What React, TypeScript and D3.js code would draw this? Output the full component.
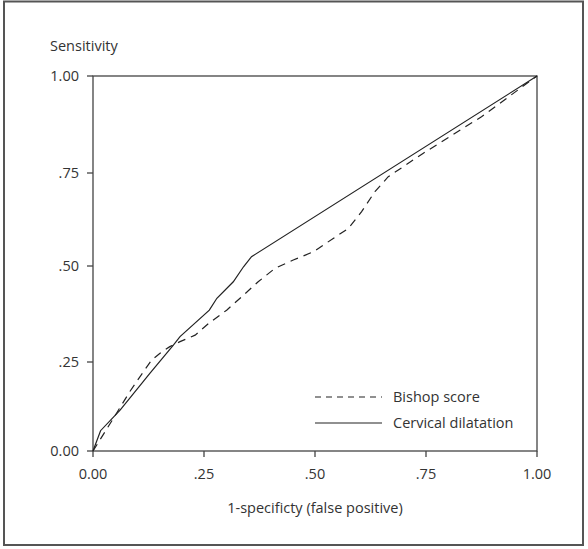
import React from "react";
import * as d3 from "d3";

const tickValues = [0, 0.25, 0.5, 0.75, 1];
const tickLabels = ["0.00", ".25", ".50", ".75", "1.00"];

const seriesNames = ["Bishop score", "Cervical dilatation"];

const bishopX = [0, 0.027, 0.053, 0.083, 0.106, 0.132, 0.151, 0.173, 0.196, 0.23, 0.261, 0.301, 0.335, 0.372, 0.41, 0.451, 0.496, 0.541, 0.575, 0.605, 0.635, 0.665, 0.705, 0.744, 0.875, 1];
const bishopY = [0, 0.054, 0.106, 0.167, 0.209, 0.255, 0.273, 0.29, 0.303, 0.32, 0.351, 0.385, 0.42, 0.459, 0.494, 0.516, 0.538, 0.574, 0.601, 0.646, 0.7, 0.74, 0.771, 0.801, 0.895, 1];

const cervicalX = [0, 0.017, 0.061, 0.113, 0.128, 0.181, 0.196, 0.262, 0.279, 0.316, 0.339, 0.357, 1];
const cervicalY = [0, 0.057, 0.115, 0.195, 0.218, 0.294, 0.316, 0.385, 0.416, 0.459, 0.498, 0.525, 1];

const W = 588;
const H = 549;
const FONT = "'Open Sans', 'Noto Sans', sans-serif";
const TEXT = "#333";
const FS = 14.5;

export default function App() {
  const x = d3.scaleLinear().domain([0, 1]).range([93, 537]);
  const y = d3.scaleLinear().domain(tickValues).range([451, 362, 266, 173, 76]);

  const line = d3
    .line<[number, number]>()
    .x((d) => x(d[0]))
    .y((d) => y(d[1]))
    .curve(d3.curveLinear);

  const bishop: [number, number][] = bishopX.map((v, i) => [v, bishopY[i]]);
  const cervical: [number, number][] = cervicalX.map((v, i) => [v, cervicalY[i]]);

  const [x0, x1] = x.range();
  const yTop = y(1);
  const yBot = y(0);

  const legendY = [397, 423];
  const legendX0 = 315;
  const legendX1 = 382;

  return (
    <svg
      width={W}
      height={H}
      style={{ position: "absolute", left: 0, top: 0, background: "#fff" }}
      fontFamily={FONT}
    >
      <rect x={4} y={1.5} width={579} height={543.5} fill="#fff" stroke="#555" strokeWidth={2} />

      <text x={50} y={51} fontSize={FS} fill={TEXT}>
        Sensitivity
      </text>

      {/* plot frame */}
      <rect x={x0} y={yTop} width={x1 - x0} height={yBot - yTop} fill="none" stroke="#444" strokeWidth={1.3} />

      {/* y ticks */}
      {tickValues.map((v, i) => (
        <g key={"y" + i}>
          <line x1={x0 - 6} x2={x0} y1={y(v)} y2={y(v)} stroke="#444" strokeWidth={1.3} />
          <text x={x0 - 14} y={y(v)} dy="0.35em" textAnchor="end" fontSize={FS} fill={TEXT}>
            {tickLabels[i]}
          </text>
        </g>
      ))}

      {/* x ticks */}
      {tickValues.map((v, i) => (
        <g key={"x" + i}>
          <line x1={x(v)} x2={x(v)} y1={yBot} y2={yBot + 6} stroke="#444" strokeWidth={1.3} />
          <text x={x(v)} y={yBot + 28} textAnchor="middle" fontSize={FS} fill={TEXT}>
            {tickLabels[i]}
          </text>
        </g>
      ))}

      <text x={(x0 + x1) / 2} y={513} textAnchor="middle" fontSize={FS} fill={TEXT}>
        1-specificty (false positive)
      </text>

      <path d={line(bishop) || ""} fill="none" stroke="#222" strokeWidth={1.2} strokeDasharray="8,6" />
      <path d={line(cervical) || ""} fill="none" stroke="#222" strokeWidth={1.2} />

      {/* legend */}
      {seriesNames.map((name, i) => (
        <g key={name}>
          <line
            x1={legendX0}
            x2={legendX1}
            y1={legendY[i]}
            y2={legendY[i]}
            stroke="#222"
            strokeWidth={1.2}
            strokeDasharray={i === 0 ? "6,5" : undefined}
          />
          <text x={legendX1 + 11} y={legendY[i]} dy="0.35em" fontSize={FS} fill={TEXT}>
            {name}
          </text>
        </g>
      ))}
    </svg>
  );
}
